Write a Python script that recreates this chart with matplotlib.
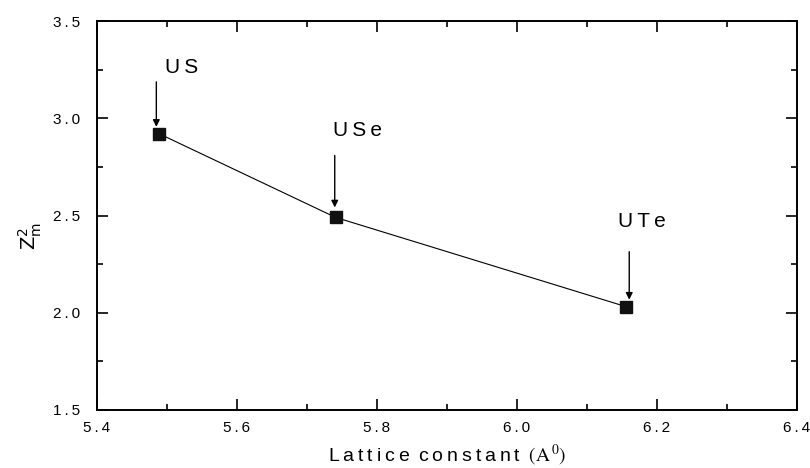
import matplotlib.pyplot as plt
from matplotlib.ticker import MultipleLocator
from matplotlib.transforms import offset_copy

plt.rcParams['font.family'] = ['Liberation Sans', 'DejaVu Sans']

compounds = ['US', 'USe', 'UTe']
lattice = [5.489, 5.741, 6.156]
z2m = [2.92, 2.49, 2.031]

# label/arrow placement in pixels relative to each point:
# (text dx, text dy, arrow dx, arrow top dy, arrow tip dy)
offsets = [(6, 66, -3, 52, 7),
           (-3, 87, -1, 62, 10),
           (-8, 85, 3, 55, 7)]

fig = plt.figure(figsize=(8.1, 4.68), dpi=100)
ax = fig.add_axes([0.1198, 0.124, 0.8642, 0.831])

ax.plot(lattice, z2m, color='black', lw=0.8, marker='s', ms=8, mfc='#111111', mec='#111111')

for name, x, y, (tdx, tdy, adx, atop, atip) in zip(compounds, lattice, z2m, offsets):
    tip = offset_copy(ax.transData, fig=fig, x=adx, y=atip, units='dots')
    top = offset_copy(ax.transData, fig=fig, x=adx, y=atop, units='dots')
    ax.annotate('', xy=(x, y), xycoords=tip, xytext=(x, y), textcoords=top,
                arrowprops=dict(arrowstyle='-|>', color='black', lw=1.0,
                                mutation_scale=10, shrinkA=0, shrinkB=0))
    ax.annotate('\u2009'.join(name), xy=(x, y), xytext=(tdx, tdy), textcoords='offset pixels',
                fontsize=15, ha='left', va='center')

ax.set_xlim(5.4, 6.4)
ax.set_ylim(1.5, 3.5)
ax.xaxis.set_major_locator(MultipleLocator(0.2))
ax.xaxis.set_minor_locator(MultipleLocator(0.1))
ax.yaxis.set_major_locator(MultipleLocator(0.5))
ax.yaxis.set_minor_locator(MultipleLocator(0.25))
ax.set_xticks(ax.get_xticks())
ax.set_yticks(ax.get_yticks())
ax.set_xticklabels(['\u2009'.join(f'{v:.1f}') for v in ax.get_xticks()])
ax.set_yticklabels(['\u2009'.join(f'{v:.1f}') for v in ax.get_yticks()])
ax.set_xlim(5.4, 6.4)
ax.set_ylim(1.5, 3.5)
ax.tick_params(which='both', direction='in', top=True, right=True, width=1.2,
               labelsize=11, colors='black')
ax.tick_params(axis='y', pad=12)
ax.tick_params(axis='x', pad=8)
ax.tick_params(which='major', length=8)
ax.tick_params(which='minor', length=4)
for s in ax.spines.values():
    s.set_linewidth(1.4)

ax.set_xlabel('L\u2009a\u2009t\u2009t\u2009i\u2009c\u2009e\u2009 c\u2009o\u2009n\u2009s\u2009t\u2009a\u2009n\u2009t\u2009 $(\\mathrm{A}^{\\,0})$',
              fontsize=14, labelpad=6, math_fontfamily='stix')
ax.set_ylabel(r'$\mathrm{Z}^{2}_{\mathrm{m}}$', fontsize=14)
ax.yaxis.set_label_coords(-0.076, 0.447)

fig.savefig('out.png', dpi=100)
